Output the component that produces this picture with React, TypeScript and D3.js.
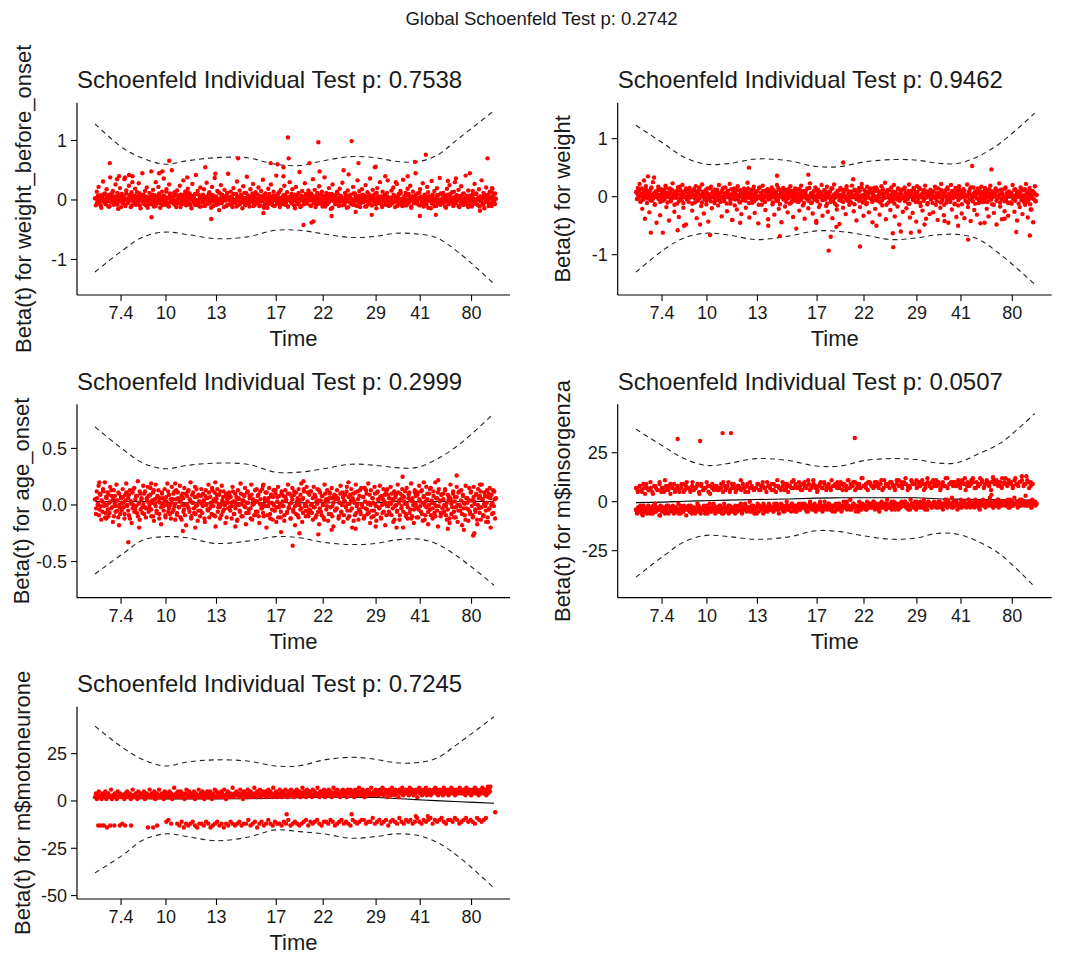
import React from "react";
import * as d3 from "d3";

// ---------- shared axis data ----------
const TIME_TICK_U = [0.065, 0.177, 0.303, 0.452, 0.569, 0.701, 0.811, 0.939];
const TIME_TICK_LABELS = ["7.4", "10", "13", "17", "22", "29", "41", "80"];
const BAND_U = [0, 0.07, 0.12, 0.175, 0.23, 0.3, 0.38, 0.45, 0.51, 0.57, 0.64, 0.7, 0.75, 0.8, 0.85, 0.91, 0.995];

const GLOBAL_TITLE = "Global Schoenfeld Test p: 0.2742";
const PANEL_TITLES = [
  "Schoenfeld Individual Test p: 0.7538",
  "Schoenfeld Individual Test p: 0.9462",
  "Schoenfeld Individual Test p: 0.2999",
  "Schoenfeld Individual Test p: 0.0507",
  "Schoenfeld Individual Test p: 0.7245",
];
const Y_LABELS = [
  "Beta(t) for weight_before_onset",
  "Beta(t) for weight",
  "Beta(t) for age_onset",
  "Beta(t) for m$insorgenza",
  "Beta(t) for m$motoneurone",
];

// ---------- panel 1 : weight_before_onset (values x100) ----------
const P1_UPPER = [1.28, 0.87, 0.7, 0.6, 0.66, 0.71, 0.71, 0.6, 0.58, 0.66, 0.73, 0.71, 0.65, 0.64, 0.74, 1.05, 1.5];
const P1_LOWER = [-1.21, -0.84, -0.62, -0.54, -0.58, -0.65, -0.62, -0.51, -0.51, -0.57, -0.63, -0.61, -0.56, -0.57, -0.63, -0.9, -1.41];
const P1_FIT = [0.01, 0.01, 0.01, 0.01, 0.01, 0.01, 0.01, 0.01, 0.01, 0.01, 0.01, 0.01, 0.01, 0.01, 0.01, 0.01, 0.01];
const P1_CORE = [
  3,-9,14,0,22,-5,8,-13,5,31,-2,11,-7,18,2,-11,9,38,-4,6,15,-8,1,26,-3,12,-15,7,20,-1,
  10,-6,4,35,-10,16,1,-3,24,8,-12,13,40,-5,3,19,-8,6,-2,28,11,-14,2,45,7,-4,15,-9,21,0,
  -7,12,5,48,-2,17,-11,8,30,1,-5,22,9,-13,4,14,-1,36,6,-8,18,3,-10,26,11,-4,50,2,-6,13,
  7,-12,16,1,-3,24,9,-7,4,33,-1,14,-9,6,19,-5,11,2,-14,27,5,-2,10,42,-8,15,0,-11,21,3,
  -4,9,18,-10,2,29,6,-6,13,0,-13,22,8,-3,37,4,-8,15,1,-17,11,25,-5,7,-1,17,3,-10,12,44,
  2,-7,14,6,-12,20,0,-4,10,31,-9,5,16,-2,8,-14,23,3,-6,12,39,-1,7,-11,18,4,-3,27,9,-8,
  13,-5,1,21,-10,6,15,-2,34,8,-7,11,0,-13,19,5,-4,26,2,-9,14,7,-1,41,-6,10,3,-12,17,-3,
  -2,8,24,-8,4,13,-11,1,30,6,-5,18,-1,9,-14,22,3,-7,12,47,0,-10,15,5,-3,28,10,-6,2,16,
  6,-9,11,0,35,-4,17,-12,7,2,-6,23,9,-2,14,-8,4,38,-11,12,1,-5,20,6,-15,10,26,-1,8,-7,
  -5,14,3,-10,19,7,-2,29,0,-8,12,5,-13,16,43,-4,9,2,-6,22,-1,11,-9,6,33,-3,15,-12,4,18,
  9,-3,1,25,-11,13,-6,7,36,0,-9,17,4,-2,11,-14,20,6,-5,30,2,-8,14,-1,8,40,-7,12,3,-10,
  4,-8,16,-1,21,7,-12,2,27,-4,10,-6,15,1,-10,34,5,-3,12,-9,19,8,-2,24,-13,6,14,-5,3,45,
  -6,11,2,-9,18,5,-3,28,-11,9,1,-7,22,13,-1,6,-14,32,4,-5,15,0,-10,20,8,-4,37,-8,10,3,
  12,-4,7,-13,19,1,-7,25,10,-2,4,-10,14,30,-5,8,-1,17,-12,6,23,2,-8,11,-3,41,5,-9,16,0,
  -3,8,-11,15,2,27,-6,10,1,-9,18,5,-2,33,-7,12,-14,4,21,-1,9,-5,14,3,-10,19,6,-4,11,2,
];
const P1_CORE2 = [
  2,-5,7,-1,4,-9,0,6,-3,10,1,-7,5,-2,8,-11,3,-4,12,0,-6,6,-1,3,-8,9,-2,4,-12,1,
  -3,6,0,-8,11,2,-5,4,-1,8,-10,3,-2,7,1,-6,13,-4,2,-9,5,0,-3,9,-7,1,6,-2,-13,4,
  5,-1,-7,3,9,-4,1,-10,6,-2,2,11,-6,0,4,-8,7,-3,1,14,-5,3,-11,8,-1,5,-4,0,10,-9,
  -2,8,-6,1,4,-12,6,-3,0,9,-7,2,-1,12,-5,3,-9,7,1,-4,5,-8,10,-2,0,-6,8,3,-11,2,
  7,-4,1,-9,5,0,-3,11,-6,2,8,-1,-10,4,-2,6,0,-7,13,-3,3,-5,9,1,-12,4,-1,7,-8,2,
  0,5,-8,3,-2,10,-5,1,-11,6,-1,4,-7,9,2,-4,0,12,-9,3,-3,7,-6,1,5,-2,11,-10,4,-1,
  -6,2,9,-3,0,-9,6,-1,4,-13,8,1,-4,3,-7,10,-2,5,-5,0,7,-10,2,-1,6,-3,13,-8,1,4,
  3,-7,0,8,-4,2,-11,5,1,-2,10,-6,3,-9,6,0,-3,9,-5,2,-12,7,-1,4,-7,1,8,-4,0,11,
  -1,6,-10,2,7,-5,0,4,-8,12,-2,3,-6,1,9,-11,5,-3,0,8,-7,2,-4,10,-1,6,-13,3,-2,5,
  4,-3,11,-7,1,-1,6,-9,3,0,-5,9,-2,7,-12,2,4,-6,1,-8,11,-3,5,0,-10,3,7,-1,-5,8,
  -4,1,7,-11,5,-2,0,10,-6,3,-9,1,8,-3,2,-7,12,-1,4,-5,0,6,-12,3,-2,9,-8,1,5,-4,
  1,-8,4,0,-5,9,-3,6,-1,-10,5,2,-7,11,0,-4,3,-9,7,-2,1,-6,10,-3,4,-11,0,6,-1,3,
  8,-2,-6,3,12,-9,1,-4,5,0,-8,7,-3,2,-13,6,-1,4,-6,9,0,-10,3,-2,8,-5,1,-7,11,-3,
  -5,3,0,-11,6,-2,9,-7,1,4,-4,13,-1,-8,5,0,-3,7,-10,2,6,-5,-1,10,-8,3,0,-4,7,-12,
  2,-9,5,-1,8,-6,1,-3,11,-7,3,0,-11,6,-2,4,-8,9,-4,1,-1,7,-10,2,5,-6,12,-2,0,-7,
];
// [u x1000, value x100]
const P1_EXTRA = [
  [37,62],[55,35],[60,40],[75,38],[85,42],[93,30],[141,-29],[160,45],[168,48],[185,66],[230,38],[275,55],
  [290,-32],[300,44],[357,70],[420,-22],[438,62],[455,60],[470,55],[481,105],[483,70],[470,40],[520,-42],
  [535,62],[540,-38],[545,-36],[557,97],[560,48],[590,-27],[620,50],[640,99],[650,-20],[657,62],[698,55],
  [700,56],[690,-25],[730,33],[750,30],[780,40],[798,64],[825,76],[810,-27],[850,-25],[880,32],[900,36],
  [935,45],[960,-18],[979,70],[990,20],
];

// ---------- panel 2 : weight (values x100) ----------
const P2_UPPER = [1.23, 0.91, 0.68, 0.56, 0.57, 0.65, 0.62, 0.52, 0.52, 0.6, 0.64, 0.63, 0.58, 0.57, 0.68, 0.93, 1.44];
const P2_LOWER = [-1.3, -0.91, -0.71, -0.63, -0.66, -0.74, -0.68, -0.59, -0.6, -0.66, -0.74, -0.71, -0.66, -0.65, -0.72, -1.0, -1.51];
const P2_FIT = [-0.02, -0.02, -0.02, -0.02, -0.02, -0.02, -0.02, -0.02, -0.02, -0.02, -0.02, -0.02, -0.02, -0.02, -0.02, -0.02, -0.02];
const P2_CORE = [
  8,-4,15,2,22,-9,5,-21,12,0,-38,18,6,-3,10,-27,3,14,-7,25,1,-14,9,-45,4,17,-2,-32,11,6,
  -5,12,3,19,-18,7,0,-41,14,-8,5,23,-2,-26,9,2,-12,16,-35,4,11,-6,20,-19,1,8,-48,13,-3,6,
  15,-1,7,-24,10,3,-10,18,-37,5,-4,12,0,-16,21,6,-29,2,9,-7,14,-43,4,-2,17,-20,8,1,-11,11,
  2,9,-15,20,-3,6,-34,13,0,-8,16,5,-25,10,-1,22,-12,4,-40,8,14,-5,3,-22,18,1,-9,11,-30,7,
  -6,14,1,-19,9,24,-2,-36,6,12,-11,3,17,-28,5,-4,10,-46,15,0,7,-14,19,-3,2,-23,11,8,-39,4,
  10,-2,16,-13,5,-31,1,8,20,-7,-21,12,3,-44,6,15,-4,-17,9,2,-27,13,-1,18,-10,4,-35,7,11,-6,
  3,13,-8,-24,7,19,0,-15,10,-38,5,-3,14,-20,1,23,-11,6,-29,9,-5,16,-42,2,12,-18,8,-1,20,-33,
  -4,11,5,-16,17,-26,2,8,-9,14,-37,0,21,-12,6,-22,10,3,-47,15,-7,4,-19,12,1,-30,18,-2,9,-14,
  6,-10,19,0,-25,12,4,-41,8,-3,15,-18,2,22,-8,-33,11,5,-13,17,-1,-27,7,14,-5,-44,3,10,-21,16,
  13,-7,2,-31,9,18,-15,5,-2,24,-39,7,11,-10,0,-23,16,4,-6,20,-34,8,1,-17,14,-48,6,-3,12,-26,
  -1,16,7,-20,3,-12,21,-36,10,2,-28,15,-5,6,-43,18,-9,1,13,-16,4,-24,11,-2,19,-38,8,-11,5,-30,
  12,-3,9,-27,0,17,-14,6,-40,14,3,-19,22,-7,8,-32,1,11,-10,16,-45,5,-4,20,-22,9,2,-13,15,-35,
  4,-15,18,-2,10,-29,7,13,-37,1,-8,21,-18,5,12,-42,3,-6,16,-23,9,0,-31,14,-11,6,-46,17,-4,8,
  -9,15,2,-21,11,-34,6,19,-5,-13,8,-28,3,14,-48,10,-1,23,-17,5,-39,12,0,-25,16,-7,4,-33,9,1,
  7,-12,20,-3,-26,13,1,-41,9,5,-18,16,-6,-30,11,2,-14,22,-9,-36,6,15,-2,-22,10,-44,4,18,-8,3,
];
const P2_CORE2 = [
  5,-2,10,1,-8,14,3,-5,7,0,12,-11,4,-1,9,-6,16,2,-3,6,-13,8,0,11,-4,3,-9,13,1,-7,
  9,-4,2,15,-10,5,-1,8,-6,12,0,3,-14,7,-2,10,4,-8,17,-3,1,6,-11,9,-1,14,-5,2,-9,11,
  -1,7,-12,4,13,-3,0,9,-7,5,16,-2,3,-10,8,1,-5,11,-13,6,2,-4,14,-8,0,7,-1,12,-6,4,
  12,-6,3,0,-9,8,-2,15,-4,6,1,-12,10,-1,4,-7,13,2,-3,9,-15,5,0,11,-5,3,-10,8,1,-2,
  3,10,-7,6,-1,14,-11,2,7,-4,0,12,-8,5,-2,9,1,-14,16,-3,4,-6,10,0,-9,7,-1,13,-5,2,
  -4,8,1,-10,11,-2,5,-7,3,15,-1,-13,6,0,9,-5,2,12,-9,4,-3,7,-12,1,10,-6,3,-1,14,-8,
  6,-1,-9,13,2,-5,8,0,-11,4,10,-3,1,-7,15,-2,6,-10,3,9,-4,0,11,-8,5,-1,-14,7,2,-6,
  1,11,-5,3,-12,7,-1,9,-3,0,14,-8,4,-2,6,-15,10,1,-6,12,-1,3,-9,8,0,-4,13,-7,5,-2,
  -8,4,9,-1,2,-13,11,-4,6,1,-7,10,-2,16,-10,3,0,-5,8,-11,5,-1,12,-3,7,-9,2,15,-6,0,
  10,-3,0,7,-10,4,-6,13,1,-2,8,-14,5,-1,11,-4,2,-8,9,0,-12,6,3,-5,14,-1,-7,10,4,-3,
  -2,13,-8,1,5,-4,10,-12,3,7,-1,-6,12,0,-9,4,8,-3,15,-11,2,-1,6,-7,11,-2,3,-13,9,1,
  7,-5,4,-11,9,0,-3,14,-8,2,6,-1,-10,11,-4,3,-14,8,1,-6,13,-2,5,-9,0,10,-3,4,-12,7,
  0,9,-6,12,-2,4,-13,6,-1,10,-7,3,1,-11,8,-4,16,-1,-8,5,2,-12,9,-3,6,-5,11,0,-9,3,
  -6,2,11,-3,7,-9,0,13,-5,4,-1,9,-14,6,1,-7,10,-2,3,-10,12,-4,5,0,-8,14,-1,7,-11,2,
  4,-10,6,1,-4,12,-7,3,8,-1,-12,5,0,10,-5,2,-9,13,-3,7,1,-6,11,-13,4,-2,9,-4,6,-8,
];
const P2_EXTRA = [
  [37,-62],[67,-62],[104,-58],[185,-66],[282,50],[359,-68],[352,36],[430,38],[481,-93],[486,-69],[517,59],
  [542,30],[559,-86],[642,-87],[641,-63],[661,-60],[686,-62],[707,-60],[804,-50],[829,-74],[839,53],[887,47],
  [949,-61],[983,-67],[985,-22],[20,28],[30,35],[45,33],[120,-50],[160,-48],[240,-40],[260,-45],[330,-50],
  [400,-55],[450,-45],[500,-52],[600,-50],[720,-48],[770,-42],[870,-45],[920,-38],
];

// ---------- panel 3 : age_onset (values x100) ----------
const P3_UPPER = [0.69, 0.49, 0.37, 0.32, 0.35, 0.37, 0.36, 0.29, 0.29, 0.32, 0.36, 0.35, 0.33, 0.33, 0.4, 0.54, 0.81];
const P3_LOWER = [-0.61, -0.43, -0.31, -0.28, -0.29, -0.34, -0.32, -0.28, -0.29, -0.33, -0.35, -0.34, -0.31, -0.3, -0.34, -0.47, -0.71];
const P3_FIT = [0.03, 0.03, 0.03, 0.02, 0.02, 0.02, 0.02, 0.02, 0.02, 0.02, 0.02, 0.02, 0.03, 0.03, 0.03, 0.03, 0.03];
const P3_CORE = [
  5,-8,12,0,17,-4,9,-13,3,14,-1,20,-7,6,11,-10,2,16,-3,8,-15,13,1,-6,18,4,-11,10,-2,7,
  -5,14,2,-12,9,19,-1,6,-9,13,3,-16,11,0,15,-4,8,-7,21,1,-13,10,5,-2,17,-8,12,-3,6,16,
  8,-3,15,-10,4,11,-14,1,18,-5,7,13,-8,2,-17,10,6,-1,14,-11,3,19,-6,9,0,-12,16,5,-4,12,
  1,13,-9,6,-2,17,4,-13,10,-6,15,0,-18,8,12,-3,5,20,-10,2,11,-7,16,-1,7,-14,9,3,-5,14,
  -7,10,4,-15,13,1,-4,18,-11,7,-1,15,3,-9,11,-19,6,14,-2,9,-12,0,17,-6,12,2,-16,8,5,-3,
  11,-2,7,-12,16,3,-8,10,0,-14,13,6,-5,19,-10,4,9,-1,15,-17,2,12,-7,8,-3,18,-13,5,1,-9,
  3,14,-6,9,-16,12,0,-3,17,-10,6,11,-20,4,-1,15,-8,8,2,-13,13,-5,10,-15,7,16,-2,1,-11,12,
  -1,8,-14,13,5,-7,18,-3,10,-12,2,15,-6,9,-18,11,0,-9,14,4,-4,19,-15,6,12,-1,-10,16,3,-7,
  9,-5,12,1,-13,16,-2,7,-9,14,4,-17,11,-6,8,0,-11,18,3,-4,13,-14,6,10,-8,15,-1,-19,9,5,
  -4,13,6,-10,2,17,-7,11,-15,4,9,-2,16,-12,7,1,-5,14,-20,10,3,-9,18,-1,12,-13,8,-6,15,0,
  7,-12,15,-3,10,-8,19,2,-16,13,-5,6,-10,16,0,-14,11,5,-2,17,-11,8,-7,14,3,-18,12,-1,9,-6,
  2,16,-9,5,-15,12,-1,9,-6,18,4,-13,10,-3,14,-20,7,1,-8,15,-12,6,11,-4,19,-10,3,-16,13,8,
  -2,11,-11,17,3,-6,13,-14,8,0,-9,16,5,-17,10,-4,15,2,-12,12,-7,20,-1,6,-19,14,4,-10,9,-3,
  10,-6,14,-1,-13,9,5,-16,18,-8,3,12,-11,7,-2,16,-15,11,0,-5,13,-18,8,2,-9,17,-3,6,-14,15,
  -8,12,4,-11,16,1,-6,10,-17,14,-3,8,-13,18,5,-9,11,-1,-15,13,7,-4,15,-20,9,2,-7,12,-12,6,
];
const P3_CORE2 = [
  -3,6,1,-9,10,-1,4,-6,12,2,-11,7,0,-4,9,-7,3,13,-2,5,-10,8,-1,4,-5,11,0,-8,6,2,
  7,-2,-8,4,11,0,-5,9,-12,3,1,-3,14,-6,5,-1,8,-10,2,12,-4,6,-7,1,10,-2,-11,5,3,-6,
  0,9,-4,2,-10,13,5,-1,-7,8,3,-12,6,-2,11,1,-5,4,-9,7,0,12,-3,-8,5,2,-6,10,-1,-13,
  5,-7,11,-2,3,-11,8,0,6,-4,-9,10,1,-1,13,-6,4,-12,9,2,-3,7,-8,14,0,-5,3,-10,8,1,
  -1,4,-12,8,0,6,-5,11,-3,2,-8,13,-1,5,-10,3,9,-6,1,-2,12,-9,4,7,-4,0,10,-11,2,6,
  9,-5,2,-1,12,-8,3,-3,7,-13,5,0,-6,10,1,-10,4,8,-2,-7,11,2,-4,6,-12,9,0,3,-9,13,
  -6,3,8,-10,1,5,-3,14,-7,0,4,-1,11,-9,6,2,-12,9,-4,7,0,-5,13,-2,3,-11,8,1,-6,10,
  3,-1,-9,7,4,-6,10,-2,1,-12,8,5,-4,12,-1,-8,3,6,-11,0,9,-3,5,-7,14,1,-5,-1,11,-10,
  -4,12,0,-7,6,-2,9,-11,3,1,-6,13,-3,4,-9,8,0,-13,10,5,-1,3,-8,11,-2,6,-10,2,7,-5,
  8,-3,5,-12,2,10,-6,0,7,-9,3,-1,12,-5,1,-10,9,4,-3,6,-14,2,11,-7,0,5,-4,13,-8,1,
  -2,7,-10,3,13,-4,1,-7,9,0,-11,6,2,-5,10,-1,-8,12,4,-3,7,-12,0,5,-6,9,1,-9,14,-1,
  6,-8,1,10,-3,4,-13,7,0,-5,11,2,-9,5,-1,8,-6,3,12,-10,1,-2,9,-7,4,-12,6,0,-4,11,
  1,-11,9,-4,5,-1,12,-8,2,7,-13,3,-2,10,-6,0,14,-9,4,-3,8,1,-10,6,-5,11,-1,3,-7,9,
  -7,5,0,13,-9,2,-4,8,-12,6,1,-2,10,-6,3,-11,7,0,-5,12,-1,4,-8,9,-3,1,-13,6,2,-4,
  4,-6,11,-1,-9,7,3,-4,9,-13,0,6,-7,12,-2,5,-10,1,8,-5,2,-11,10,-3,6,0,-8,13,-1,5,
];
const P3_EXTRA = [
  [11,20],[28,-12],[83,-33],[60,-18],[110,-20],[140,19],[219,-23],[250,-20],[300,20],[350,-19],[464,-24],
  [493,-36],[510,-25],[557,-26],[590,-22],[632,20],[650,-21],[700,-19],[752,-20],[767,25],[856,22],[880,-21],
  [902,26],[943,-27],[946,-25],[960,18],[980,-15],[995,12],[200,19],[420,18],[520,21],[820,20],[920,-22],
];

// ---------- panel 4 : m$insorgenza (values in units) ----------
const P4_UPPER = [37, 28, 22, 18.5, 19.5, 22, 21, 18.2, 18.2, 21, 22, 21.5, 19.8, 19.8, 24, 30, 45];
const P4_LOWER = [-38.5, -27.5, -20.5, -17.2, -17.8, -19.2, -18, -14.8, -15.3, -17.5, -19.2, -18.5, -16.2, -16.5, -20, -27, -43.5];
const P4_FIT = [-0.5, -0.2, 0.2, 0.5, 0.8, 1.1, 1.4, 1.8, 2.0, 2.0, 2.0, 2.0, 1.5, 1.3, 1.1, 0.9, 0.8];
const P4_HIGH = [
  7,5,8,6,9,4,7,6,10,5,8,7,6,9,5,7,11,6,8,4,7,9,
  6,8,5,7,9,6,10,7,5,8,6,7,9,4,8,6,7,10,5,8,7,6,
  8,6,7,9,5,8,7,10,6,7,9,5,8,7,6,9,7,8,5,10,7,6,
  7,9,6,8,10,7,5,8,7,9,6,8,11,7,6,8,9,7,5,8,10,7,
  8,7,10,6,9,8,7,11,6,8,9,7,5,8,10,7,9,6,8,7,11,8,
  9,7,8,10,6,9,8,11,7,8,10,6,9,8,7,12,8,9,6,10,8,7,
  8,10,7,9,6,11,8,9,7,10,8,6,9,11,8,7,10,9,6,8,11,9,
  9,7,10,8,11,6,9,10,8,7,11,9,8,10,6,9,8,12,7,9,10,8,
  10,8,9,7,11,9,6,10,8,9,12,7,10,8,9,11,7,9,10,8,6,10,
  9,11,8,10,7,9,12,8,10,9,7,11,9,8,10,13,8,9,11,7,10,9,
];
const P4_HIGH2 = [
  6,8,5,7,9,6,7,4,8,6,10,7,5,8,6,9,7,5,
  7,6,9,5,8,7,6,10,7,8,5,9,6,7,8,4,9,7,
  8,6,7,10,6,8,5,9,7,6,8,11,7,5,9,7,8,6,
  7,9,6,8,7,10,8,6,9,5,8,7,10,6,9,8,7,11,
  9,7,8,6,10,8,9,7,11,8,6,9,7,10,8,9,6,8,
  8,10,7,9,8,6,11,9,8,10,7,9,12,8,7,10,9,8,
  10,8,9,11,7,9,8,10,9,7,11,8,10,9,12,8,7,10,
  9,11,8,10,9,7,12,9,10,8,11,9,7,10,8,12,9,10,
  10,8,11,9,10,12,8,9,11,10,7,9,12,10,8,11,9,10,
  11,9,10,8,12,10,9,11,10,8,12,9,10,11,9,13,10,8,
];
const P4_LOW = [
  -4,-6,-3,-5,-2,-4,-7,-3,-5,-4,-6,-2,-4,-5,-3,-6,-4,-1,-5,-3,-4,-7,-2,-5,-4,-3,-6,-4,-5,-2,
  -3,-5,-4,-2,-6,-4,-3,-5,-1,-4,-6,-3,-5,-2,-4,-7,-3,-4,-5,-2,-6,-4,-3,-5,-4,-1,-5,-3,-6,-4,
  -4,-2,-5,-3,-6,-4,-1,-5,-3,-4,-2,-6,-4,-3,-5,-2,-4,-6,-3,-1,-5,-4,-3,-6,-2,-4,-5,-3,-4,-2,
  -3,-5,-2,-4,-1,-6,-3,-4,-2,-5,-3,-4,0,-5,-3,-2,-6,-4,-3,-1,-5,-2,-4,-3,-6,-2,-4,-3,-5,-1,
  -2,-4,-3,-5,-1,-3,-4,-2,-6,-3,-1,-4,-2,-5,-3,0,-4,-2,-3,-5,-1,-3,-4,-2,-5,-3,-1,-4,-3,-2,
  -3,-1,-4,-2,-5,-3,0,-3,-2,-4,-1,-5,-3,-2,-4,-1,-3,-5,-2,0,-3,-4,-2,-1,-4,-3,-5,-2,-3,-1,
  -2,-4,-1,-3,-5,-2,0,-3,-1,-4,-2,-3,1,-4,-2,-1,-3,-5,-2,-3,0,-2,-4,-1,-3,-2,-4,0,-3,-1,
  -1,-3,-2,0,-4,-2,-1,-3,-5,-2,0,-3,-1,-2,-4,1,-2,-3,-1,-4,-2,0,-3,-1,-2,-4,-1,-3,0,-2,
  -2,0,-3,-1,-4,-2,1,-2,-1,-3,0,-4,-2,-1,-3,0,-2,-3,1,-1,-2,-4,0,-2,-1,-3,-2,0,-1,-3,
  -1,-3,0,-2,-1,-4,-2,1,-1,-3,0,-2,-1,2,-3,-1,-2,0,-4,-1,-2,1,-3,-1,0,-2,-3,-1,1,-2,
  0,-2,-1,-3,1,-1,-2,0,-4,-1,-2,1,-1,-3,0,-2,-1,2,-2,-1,-3,0,-1,-2,1,-3,-1,0,-2,-1,
  -1,0,-2,1,-1,-3,0,-2,-1,2,-1,0,-3,-1,1,-2,0,-1,-2,3,-1,-2,0,-1,-3,1,-1,0,-2,-1,
];
const P4_LOW2 = [
  -5,-3,-4,-6,-2,-5,-4,-3,-6,-4,-2,-5,-3,-4,-7,-3,-5,-4,-2,-6,-3,-4,-5,-3,-4,-6,-2,-4,-5,-3,
  -4,-2,-5,-3,-4,-6,-3,-2,-5,-4,-3,-6,-2,-4,-3,-5,-1,-4,-3,-5,-2,-4,-6,-3,-4,-2,-5,-3,-4,-6,
  -3,-4,-2,-5,-3,-1,-4,-3,-5,-2,-4,-3,-6,-2,-3,-4,-1,-5,-3,-2,-4,-3,-5,-2,-1,-4,-3,-2,-5,-3,
  -2,-4,-3,-1,-3,-5,-2,-3,-4,-1,-3,-2,-5,-3,-1,-4,-2,-3,-4,-2,0,-3,-4,-2,-3,-1,-4,-2,-3,-5,
  -3,-1,-2,-4,-2,-3,0,-2,-4,-3,-1,-2,-3,-5,-2,-1,-3,-2,-4,-1,-3,-2,0,-3,-2,-4,-1,-3,-2,-1,
  -1,-3,-2,0,-2,-4,-1,-2,-3,-1,-2,0,-3,-2,-4,-1,-2,-3,0,-1,-2,-3,-1,-4,-2,0,-1,-3,-2,-1,
  -2,0,-1,-3,-1,-2,1,-2,-1,-3,0,-2,-1,-2,-3,0,-1,-2,-1,1,-3,-1,-2,0,-1,-3,-2,0,-1,-2,
  -1,-2,0,-1,-3,0,-1,1,-2,-1,0,-2,-1,-3,1,0,-2,-1,0,-1,-2,1,-1,0,-2,-1,0,-3,-1,0,
];
const P4_EXTRA = [[104,32],[160,31],[216,35],[237,35],[546,32.5],[891,12.5],[887,3.5]];

// ---------- panel 5 : m$motoneurone (values in units) ----------
const P5_UPPER = [39.5, 28, 21.8, 18.5, 20.6, 21.7, 21.1, 18.5, 18.6, 21.6, 23.1, 22, 20.2, 20.2, 22.4, 31, 44.5];
const P5_LOWER = [-38, -28.5, -20.6, -17.4, -18.8, -21, -19.2, -15.3, -16.2, -17.4, -19.7, -18.8, -17.4, -18, -21.5, -30, -46];
const P5_FIT = [1.4, 1.3, 1.2, 1.1, 1.1, 1.1, 1.2, 1.4, 1.7, 2.0, 2.0, 1.8, 1.3, 0.7, 0.2, -0.4, -1.2];
const P5_HIGH = [
  2,4,1,3,5,2,3,1,4,2,3,5,1,2,4,3,2,6,1,3,2,4,3,1,5,2,3,4,2,3,
  3,1,4,2,5,3,2,4,1,3,6,2,3,4,2,1,5,3,2,4,3,2,5,1,3,4,2,3,6,2,
  4,2,3,5,1,3,4,2,6,3,2,4,3,1,5,3,2,4,3,5,2,4,1,3,7,2,4,3,5,2,
  3,5,2,4,3,1,4,6,2,3,5,3,2,4,3,5,1,4,3,2,6,3,4,2,5,3,1,4,3,5,
  2,4,5,3,1,4,3,6,2,5,3,4,2,3,5,4,2,6,3,1,4,5,3,2,4,3,7,2,4,3,
  5,3,4,2,6,3,4,1,5,3,4,2,6,4,3,5,2,4,3,7,4,2,5,3,4,6,2,3,5,4,
  3,5,2,4,6,3,5,4,2,7,3,4,5,2,4,3,6,4,2,5,3,4,6,3,2,5,4,3,6,4,
  4,2,5,3,6,4,3,5,2,4,7,3,5,4,2,6,4,3,5,4,2,6,3,5,4,3,7,4,2,5,
  5,3,4,6,2,5,4,3,6,4,5,2,4,7,3,5,4,6,3,4,2,5,4,6,3,5,4,2,6,4,
  4,6,3,5,4,2,6,4,5,3,7,4,5,3,6,4,2,5,4,6,3,5,4,7,3,4,5,3,6,4,
  5,3,6,4,5,7,3,4,6,5,2,4,6,5,3,7,4,5,3,6,4,5,2,6,4,5,7,3,5,4,
  6,4,5,3,7,5,4,6,3,5,4,6,2,5,7,4,5,3,6,4,5,7,3,5,4,6,3,5,4,6,
  5,7,4,6,3,5,6,4,5,3,7,5,4,6,5,3,6,4,7,5,4,6,3,5,6,4,5,7,4,5,
  4,6,5,3,7,5,4,6,5,3,6,4,5,7,4,6,5,3,5,6,4,7,5,4,6,3,5,4,6,5,
];
const P5_LOW = [
  -12,-13,-11,-14,-12,-13,-12,-11,-13,-14,-12,-12,-13,-11,-12,-14,-13,-12,-11,-13,-12,-14,-12,-13,-11,-12,-13,-12,
  -11,-13,-12,-12,-10,-13,-12,-11,-14,-12,-11,-13,-12,-10,-12,-13,-11,-12,-12,-13,-11,-12,-10,-13,-12,-11,-12,-13,
  -12,-11,-10,-13,-11,-12,-11,-10,-12,-13,-11,-11,-12,-10,-11,-13,-12,-11,-10,-12,-11,-12,-13,-10,-11,-12,-11,-10,
  -10,-12,-11,-11,-9,-12,-11,-10,-12,-11,-10,-13,-11,-10,-11,-12,-9,-11,-12,-10,-11,-10,-12,-11,-9,-11,-12,-10,
  -11,-10,-9,-12,-10,-11,-10,-9,-11,-12,-10,-10,-11,-9,-10,-12,-11,-10,-9,-11,-10,-11,-12,-9,-10,-11,-10,-9,
];
const P5_EXTRA = [
  [8,-13],[15,-13],[22,-13],[30,-14],[38,-13],[48,-13],[62,-13],[68,-12],[75,-13],[90,-13],[132,-14],[145,-14],
  [155,-13],[178,-11],[183,-10],[190,-12],[478,-7],[640,-7],[800,-8],[830,-8],[998,-6],[980,7.5],[986,7.5],
];

// ---------- layout ----------
type Pt = { u: number; v: number };
const spread = (vals: number[], k: number, u0: number, u1: number): Pt[] =>
  vals.map((v, i) => ({ u: u0 + ((u1 - u0) * i) / (vals.length - 1), v: v * k }));
const extra = (arr: number[][], k: number): Pt[] => arr.map(([u, v]) => ({ u: u / 1000, v: v * k }));

const COLS = [
  { axisX: 77, right: 510, d0: 95, d1: 496 },
  { axisX: 617.7, right: 1051.7, d0: 636, d1: 1036.7 },
];
const ROWS = [
  { top: 102.7, bottom: 295, titleY: 87.7 },
  { top: 404.3, bottom: 597.7, titleY: 390 },
  { top: 706.7, bottom: 899, titleY: 691.7 },
];

const PANELS = [
  {
    col: 0, row: 0, ylabX: 23, dom: [-1.597, 1.635], ticks: [-1, 0, 1], tickLab: ["-1", "0", "1"],
    up: P1_UPPER, lo: P1_LOWER, fit: P1_FIT,
    pts: [...spread(P1_CORE, 0.01, 0, 1), ...spread(P1_CORE2, 0.01, 0.003, 0.997), ...extra(P1_EXTRA, 0.01)],
  },
  {
    col: 1, row: 0, ylabX: 562, dom: [-1.695, 1.62], ticks: [-1, 0, 1], tickLab: ["-1", "0", "1"],
    up: P2_UPPER, lo: P2_LOWER, fit: P2_FIT,
    pts: [...spread(P2_CORE, 0.01, 0, 1), ...spread(P2_CORE2, 0.01, 0.003, 0.997), ...extra(P2_EXTRA, 0.01)],
  },
  {
    col: 0, row: 1, ylabX: 21, dom: [-0.82, 0.89], ticks: [-0.5, 0, 0.5], tickLab: ["-0.5", "0.0", "0.5"],
    up: P3_UPPER, lo: P3_LOWER, fit: P3_FIT,
    pts: [...spread(P3_CORE, 0.01, 0, 1), ...spread(P3_CORE2, 0.01, 0.003, 0.997), ...extra(P3_EXTRA, 0.01)],
  },
  {
    col: 1, row: 1, ylabX: 562, dom: [-49, 49.7], ticks: [-25, 0, 25], tickLab: ["-25", "0", "25"],
    up: P4_UPPER, lo: P4_LOWER, fit: P4_FIT,
    pts: [
      ...spread(P4_HIGH, 1, 0, 0.99),
      ...spread(P4_HIGH2, 1, 0.004, 0.985),
      ...spread(P4_LOW, 1, 0, 1),
      ...spread(P4_LOW2, 1, 0.002, 0.996),
      ...extra(P4_EXTRA, 1),
    ],
  },
  {
    col: 0, row: 2, ylabX: 22, dom: [-51.8, 49.8], ticks: [-50, -25, 0, 25], tickLab: ["-50", "-25", "0", "25"],
    up: P5_UPPER, lo: P5_LOWER, fit: P5_FIT,
    pts: [...spread(P5_HIGH, 1, 0, 0.985), ...spread(P5_LOW, 1, 0.205, 0.975), ...extra(P5_EXTRA, 1)],
  },
];

const FONT = "'Liberation Sans', Arial, Helvetica, sans-serif";
const TXT = "#1a1a1a";

function Panel({ p, i }: { p: (typeof PANELS)[number]; i: number }) {
  const c = COLS[p.col];
  const r = ROWS[p.row];
  const x = d3.scaleLinear().domain([0, 1]).range([c.d0, c.d1]);
  const y = d3.scaleLinear().domain(p.dom).range([r.bottom, r.top]);
  const line = d3
    .line<number>()
    .x((_, k) => x(BAND_U[k]))
    .y((d) => y(d))
    .curve(d3.curveCatmullRom.alpha(0.5));
  const cx = (c.axisX + c.right) / 2;
  const cy = (r.top + r.bottom) / 2;
  return (
    <g>
      <text x={c.axisX} y={r.titleY} fontSize={24} fill={TXT} fontFamily={FONT}>
        {PANEL_TITLES[i]}
      </text>
      <path d={line(p.fit) || ""} fill="none" stroke="#000" strokeWidth={1.1} />
      <path d={line(p.up) || ""} fill="none" stroke="#222" strokeWidth={1.1} strokeDasharray="5,4" />
      <path d={line(p.lo) || ""} fill="none" stroke="#222" strokeWidth={1.1} strokeDasharray="5,4" />
      <g fill="#ff0000">
        {p.pts.map((d, k) => (
          <circle key={k} cx={x(d.u)} cy={y(d.v)} r={2.2} />
        ))}
      </g>
      <line x1={c.axisX} x2={c.axisX} y1={r.top} y2={r.bottom} stroke="#000" strokeWidth={1.2} />
      <line x1={c.axisX} x2={c.right} y1={r.bottom} y2={r.bottom} stroke="#000" strokeWidth={1.2} />
      {p.ticks.map((t, k) => (
        <g key={k}>
          <line x1={c.axisX - 6} x2={c.axisX} y1={y(t)} y2={y(t)} stroke="#000" strokeWidth={1.1} />
          <text x={c.axisX - 10} y={y(t)} dy="0.35em" textAnchor="end" fontSize={18} fill={TXT} fontFamily={FONT}>
            {p.tickLab[k]}
          </text>
        </g>
      ))}
      {TIME_TICK_U.map((t, k) => (
        <g key={k}>
          <line x1={x(t)} x2={x(t)} y1={r.bottom} y2={r.bottom + 6} stroke="#000" strokeWidth={1.1} />
          <text x={x(t)} y={r.bottom + 24} textAnchor="middle" fontSize={18} fill={TXT} fontFamily={FONT}>
            {TIME_TICK_LABELS[k]}
          </text>
        </g>
      ))}
      <text x={cx} y={r.bottom + 51} textAnchor="middle" fontSize={22} fill={TXT} fontFamily={FONT}>
        Time
      </text>
      <text
        transform={`translate(${p.ylabX},${cy}) rotate(-90)`}
        dy="0.35em"
        textAnchor="middle"
        fontSize={22}
        fill={TXT}
        fontFamily={FONT}
      >
        {Y_LABELS[i]}
      </text>
    </g>
  );
}

export default function App() {
  return (
    <svg width={1067} height={954} style={{ position: "absolute", left: 0, top: 0, background: "#fff" }}>
      <rect width={1067} height={954} fill="#fff" />
      <text x={541.5} y={25} textAnchor="middle" fontSize={18.5} fill={TXT} fontFamily={FONT}>
        {GLOBAL_TITLE}
      </text>
      {PANELS.map((p, i) => (
        <Panel key={i} p={p} i={i} />
      ))}
    </svg>
  );
}
